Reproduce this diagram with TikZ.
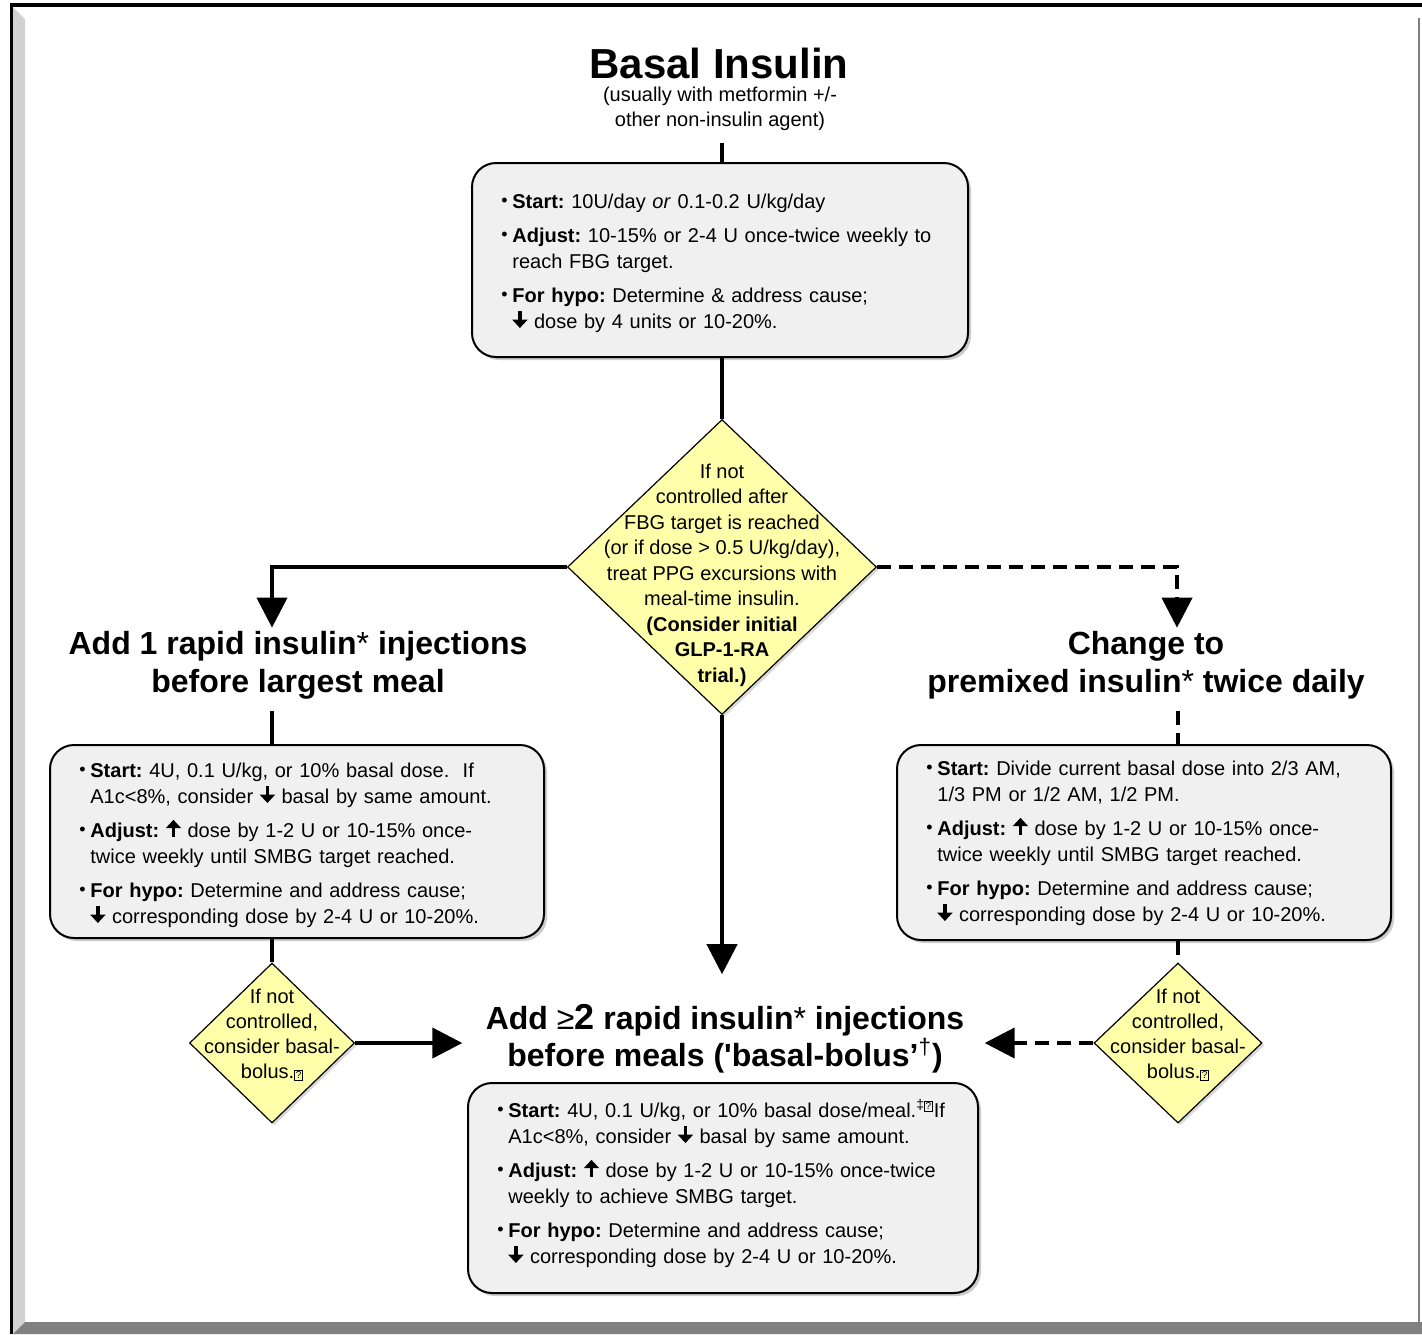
\documentclass[tikz,border=0pt]{standalone}
\usepackage{fontspec}
\setmainfont{Liberation Sans}
\usetikzlibrary{shapes.geometric,arrows.meta,shadows,positioning}

\definecolor{boxgray}{RGB}{240,240,240}
\definecolor{diayellow}{RGB}{255,255,170}
\definecolor{bevlight}{RGB}{210,210,210}
\definecolor{bevdark}{RGB}{128,128,128}

\newcommand\dnar{\tikz[baseline=-0.6pt]\draw[line width=1.7pt,-{Triangle[length=4.2pt,width=7.5pt]}] (0,8pt)--(0,-0.6pt);}
\newcommand\upar{\tikz[baseline=-0.6pt]\draw[line width=1.7pt,-{Triangle[length=4.2pt,width=7.5pt]}] (0,-0.6pt)--(0,8pt);}
\newcommand\qbox{{\setlength\fboxsep{0.4pt}\setlength\fboxrule{0.4pt}\fbox{\fontsize{5}{5}\selectfont ?}}}
\newcommand\bul[1]{\par\hangindent=5.5pt\hangafter=1\noindent\makebox[5.5pt][l]{\raisebox{.1ex}{\fontsize{9}{9}\selectfont\textbullet}}#1\par}
\frenchspacing

\begin{document}
\begin{tikzpicture}[x=0.5pt,y=-0.5pt,
    infobox/.style={draw,line width=1pt,rounded corners=12pt,fill=boxgray,inner sep=0pt,
      drop shadow={opacity=.4,shadow xshift=1.5pt,shadow yshift=-1.5pt}},
    note/.style={anchor=base west,align=left,inner sep=0pt,
      font=\fontsize{10}{13}\selectfont\setlength\parskip{4pt}},
    decide/.style={diamond,draw,line width=.6pt,fill=diayellow,inner sep=0pt,
      drop shadow={opacity=.3,shadow xshift=1.2pt,shadow yshift=-1.2pt}},
    dtext/.style={align=center,inner sep=0pt},
    heading/.style={align=center,inner sep=0pt,font=\fontsize{16}{19}\selectfont\bfseries},
    link/.style={line width=2pt},
    dashlink/.style={line width=2pt,dash pattern=on 7pt off 4pt},
    tip/.style={-{Triangle[length=15pt,width=15pt]}}]
  \useasboundingbox (0,0) rectangle (1422,1334);
  \fill[white] (0,0) rectangle (1422,1334);
  % frame
  \fill[bevlight] (13,7) -- (25,19) -- (25,1322) -- (13,1334) -- cycle;
  \fill[bevdark] (13,1334) -- (25,1322) -- (1422,1322) -- (1422,1334) -- cycle;
  \fill[black] (10,3) rectangle (1422,7);
  \fill[black] (10,3) rectangle (13,1334);
  \draw[bevdark,line width=.6pt] (1419,18) -- (1419,1322);

  \node[font=\fontsize{21}{25}\selectfont\bfseries,inner sep=0pt] (title) at (719,63) {Basal Insulin};
  \node[dtext,font=\fontsize{10}{12.5}\selectfont] (sub) at (720,109) {(usually with metformin +/-\\other non-insulin agent)};

  \node[infobox,minimum width=248pt,minimum height=97pt] (top) at (720,260) {};
  \node[note,text width=218pt] (topnote) at ([xshift=15pt,yshift=-6pt]top.north west) {%
    \bul{\textbf{Start:} 10U/day \textit{or} 0.1-0.2 U/kg/day}
    \bul{\textbf{Adjust:} 10-15\% or 2-4 U once-twice weekly to\break reach FBG target.}
    \bul{\textbf{For hypo:} Determine \& address cause;\break \dnar\ dose by 4 units or 10-20\%.}};

  \node[decide,minimum width=154.5pt,minimum height=147.5pt] (dia) at (722,567) {};
  \node[dtext,font=\fontsize{10}{12.75}\selectfont] (diatext) at (722,575) {If not\\controlled after\\FBG target is reached\\(or if dose > 0.5 U/kg/day),\\treat PPG excursions with\\meal-time insulin.\\\textbf{(Consider initial}\\\textbf{GLP-1-RA}\\\textbf{trial.)}};

  \node[heading] (lh) at (298,665) {Add 1 rapid insulin{\mdseries *} injections\\before largest meal};
  \node[heading] (rh) at (1146,665) {Change to\\premixed insulin{\mdseries *} twice daily};

  \node[infobox,minimum width=247pt,minimum height=96.5pt] (lbox) at (297,841.5) {};
  \node[note,text width=217pt] (lnote) at ([xshift=15pt,yshift=0.5pt]lbox.north west) {%
    \bul{\textbf{Start:} 4U, 0.1 U/kg, or 10\% basal dose.\ \ If\break A1c<8\%, consider \dnar\ basal by same amount.}
    \bul{\textbf{Adjust:} \upar\ dose by 1-2 U or 10-15\% once-\break twice weekly until SMBG target reached.}
    \bul{\textbf{For hypo:} Determine and address cause;\break \dnar\ corresponding dose by 2-4 U or 10-20\%.}};
  \node[infobox,minimum width=247pt,minimum height=97.5pt] (rbox) at (1144,842.5) {};
  \node[note,text width=217pt] (rnote) at ([xshift=15pt,yshift=1.5pt]rbox.north west) {%
    \bul{\textbf{Start:} Divide current basal dose into 2/3 AM,\break 1/3 PM or 1/2 AM, 1/2 PM.}
    \bul{\textbf{Adjust:} \upar\ dose by 1-2 U or 10-15\% once-\break twice weekly until SMBG target reached.}
    \bul{\textbf{For hypo:} Determine and address cause;\break \dnar\ corresponding dose by 2-4 U or 10-20\%.}};

  \node[decide,minimum width=82.5pt,minimum height=80pt] (ldia) at (272,1043) {};
  \node[dtext,font=\fontsize{10}{12.5}\selectfont] (ldiatext) at (272,1035) {If not\\controlled,\\consider basal-\\bolus.\qbox};
  \node[decide,minimum width=84pt,minimum height=80pt] (rdia) at (1178,1043) {};
  \node[dtext,font=\fontsize{10}{12.5}\selectfont] (rdiatext) at (1178,1035) {If not\\controlled,\\consider basal-\\bolus.\qbox};

  \node[heading,font=\fontsize{16}{18.5}\selectfont\bfseries] (bh) at (725,1039) {Add {\mdseries ≥}{\fontsize{18}{18}\selectfont 2} rapid insulin{\mdseries *} injections\\before meals (\textquotesingle basal-bolus’\textsuperscript{\mdseries\textdagger})};

  \node[infobox,minimum width=255pt,minimum height=105pt] (bbox) at (723,1188) {};
  \node[note,text width=225pt] (bnote) at ([xshift=15pt,yshift=-0.5pt]bbox.north west) {%
    \bul{\textbf{Start:} 4U, 0.1 U/kg, or 10\% basal dose/meal.\textsuperscript{\ddag\qbox}If\break A1c<8\%, consider \dnar\ basal by same amount.}
    \bul{\textbf{Adjust:} \upar\ dose by 1-2 U or 10-15\% once-twice\break weekly to achieve SMBG target.}
    \bul{\textbf{For hypo:} Determine and address cause;\break \dnar\ corresponding dose by 2-4 U or 10-20\%.}};

  % connectors
  \draw[link,shorten <=6pt] (dia.north |- sub.south) -- (dia.north |- top.north);
  \draw[link] (dia.north |- top.south) -- (dia.north);
  \draw[link,tip,shorten >=1.5pt] (dia.west) -| ([xshift=-13pt]lh.north);
  \draw[dashlink,tip,shorten >=1.5pt] (dia.east) -| ([xshift=15.5pt]rh.north);
  \draw[link,tip,shorten >=15pt] (dia.south) -- (dia.south |- bh.north);
  \draw[link,shorten <=6pt] (ldia.north |- lh.south) -- (ldia.north |- lbox.north);
  \draw[dashlink,shorten <=6pt] (rdia.north |- rh.south) -- (rdia.north |- rbox.north);
  \draw[link] (ldia.north |- lbox.south) -- (ldia.north);
  \draw[dashlink] (rdia.north |- rbox.south) -- (rdia.north);
  \draw[link,tip,shorten >=11.5pt] (ldia.east) -- (ldia.east -| bh.west);
  \draw[dashlink,tip,shorten >=10pt] (rdia.west) -- (rdia.west -| bh.east);
\end{tikzpicture}
\end{document}
